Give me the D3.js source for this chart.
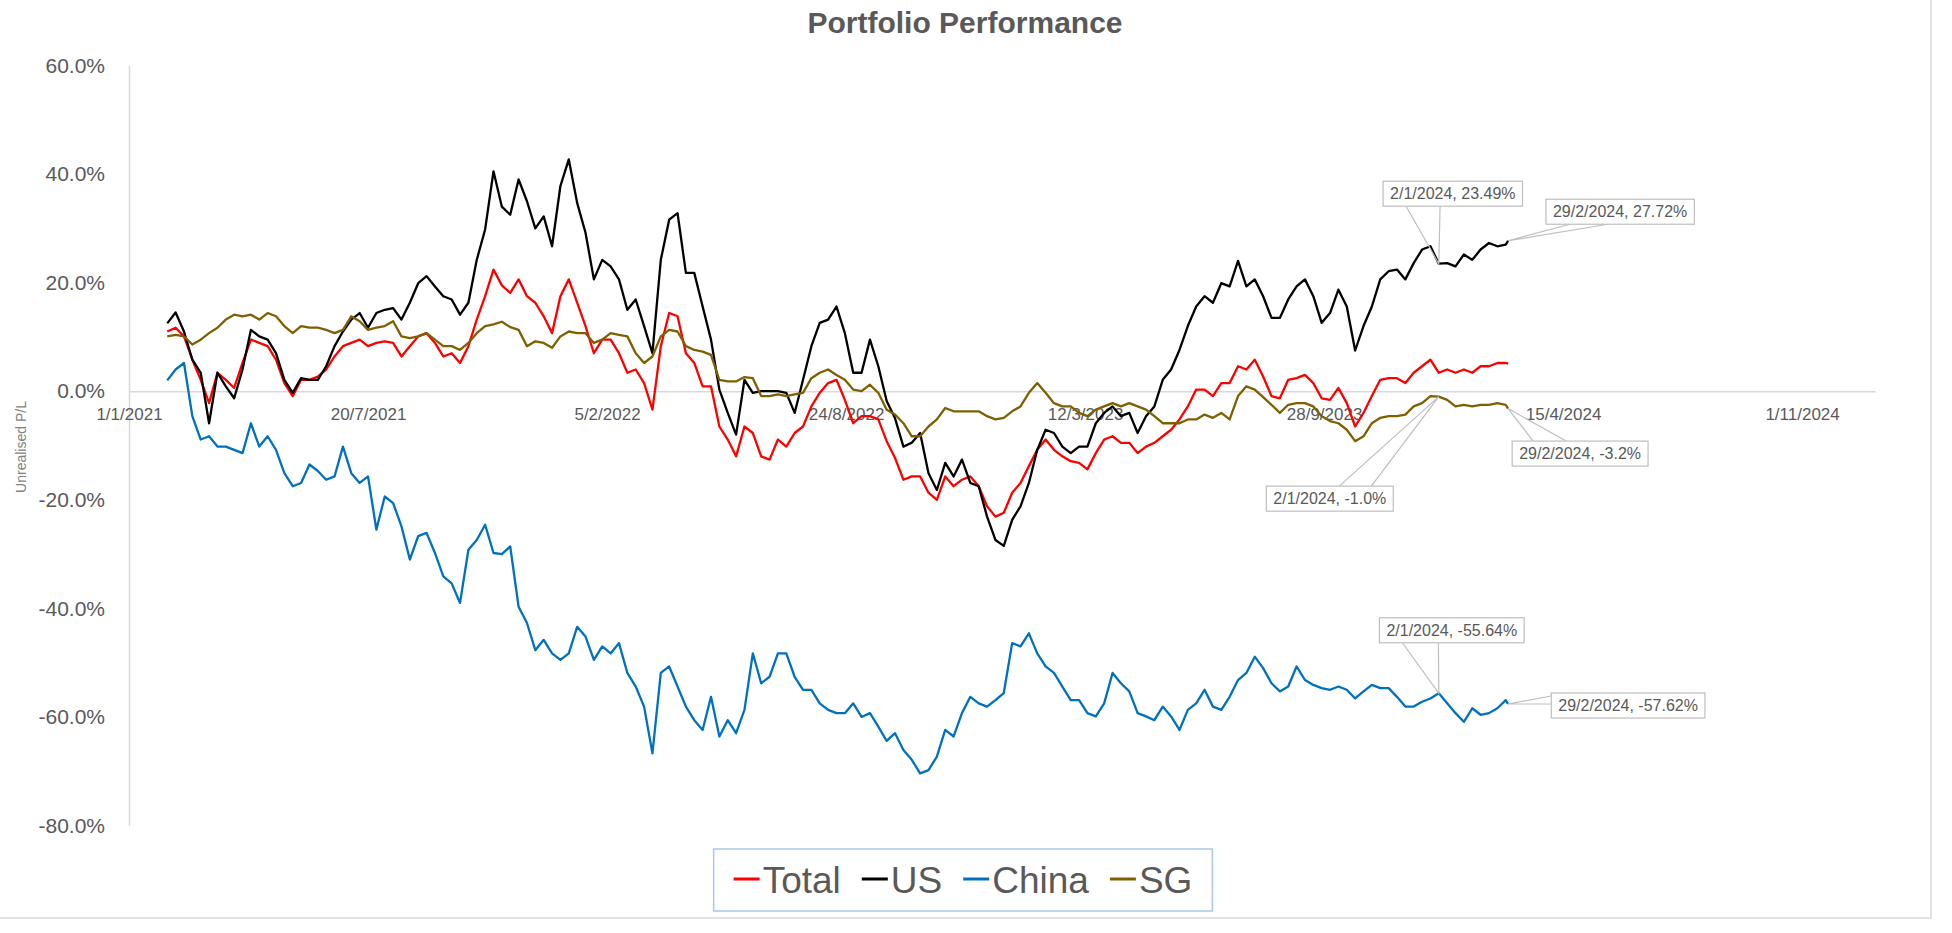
<!DOCTYPE html>
<html>
<head>
<meta charset="utf-8">
<script src="https://cdn.jsdelivr.net/npm/d3@7"></script>
<style>
  body { margin: 0; background: #fff; }
  svg { display: block; font-family: "Liberation Sans", Arial, sans-serif; }
</style>
</head>
<body>
<svg id="chart"></svg>
<script>
// weekly samples (tuesdays) from 2/2/2021, last point is 29/2/2024
const firstDate = new Date(2021, 1, 2);
const lastDate = new Date(2024, 1, 29);
const weeks = 161;

const seriesNames = ["Total", "US", "China", "SG"];

const totalValues = [
  11, 11.7, 10.1, 5.8, 2.1, -2.2, 3.4, 2.1, 0.6, 5.2,
  9.5, 8.9, 8.3, 5.8, 1.5, -0.9, 2.1, 2.1, 2.7, 4.0,
  6.4, 8.3, 8.9, 9.5, 8.3, 8.9, 9.2, 8.9, 6.4, 8.3,
  10.1, 10.7, 8.9, 6.4, 7.0, 5.2, 8.3, 13.2, 17.5, 22.4,
  19.5, 18.1, 20.6, 17.5, 16.3, 13.8, 10.7, 17.5, 20.6, 16.3,
  12.0, 7.0, 9.5, 9.5, 7.0, 3.4, 4.0, 1.5, -3.4, 8.3,
  14.4, 13.8, 7.0, 5.2, 0.9, 0.9, -6.5, -8.9, -12.0, -6.5,
  -7.7, -12, -12.6, -8.9, -10.2, -7.7, -6.5, -2.8, -0.3, 1.5,
  2.1, -1.6, -5.9, -4.6, -4.6, -5.2, -9.2, -12.3, -16.3, -15.7,
  -15.7, -18.7, -20, -15.7, -17.5, -16.3, -15.7, -17.5, -21.2, -23.1,
  -22.4, -18.7, -16.9, -13.8, -10.8, -8.9, -10.8, -12.0, -12.9, -13.2,
  -14.4, -11.4, -8.9, -8.3, -9.5, -9.5, -11.4, -10.2, -9.5, -8.3,
  -7.1, -5.2, -2.8, 0.3, 0.3, -0.9, 1.5, 1.5, 4.6, 4.0,
  5.8, 2.7, -0.9, -1.3, 2.1, 2.4, 3.0, 1.5, -1.3, -1.6,
  0.6, -2.2, -6.5, -4.0, -0.9, 2.1, 2.4, 2.4, 1.5, 3.4,
  4.6, 5.8, 3.4, 4.0, 3.4, 4.0, 3.4, 4.6, 4.6, 5.2,
  5.2, 5.1
];

const usValues = [
  12.5, 14.5, 11, 5.8, 3.4, -5.9, 3.4, 0.9, -1.3, 4.0,
  11.3, 10.1, 9.5, 7, 2.1, -0.3, 2.4, 2.1, 2.1, 4.6,
  8.3, 11, 13.2, 14.4, 11.7, 14.4, 15, 15.3, 13.2, 16.3,
  19.9, 21.2, 19.3, 17.5, 16.9, 14.1, 16.3, 24.2, 29.8, 40.5,
  34, 32.5, 39, 35, 30, 32.2, 26.7, 37.8, 42.7, 34.7,
  29.2, 20.6, 24.2, 23, 20.6, 15, 16.9, 12, 7, 24.2,
  31.6, 32.8, 21.8, 21.8, 15.6, 9.5, 0.3, -4.0, -8, 2.1,
  -0.3, 0, 0, 0, -0.3, -4, 2.1, 8.3, 12.6, 13.2,
  15.6, 10.7, 3.4, 3.4, 9.5, 4.6, -1.8, -5, -10.2, -9.5,
  -7.7, -15.1, -18.2, -13.2, -15.7, -12.6, -16.9, -17.5, -23.1, -27.4,
  -28.5, -23.7, -21.2, -16.9, -10.8, -7.1, -7.7, -10.2, -11.4, -10.2,
  -10.2, -5.9, -4.0, -2.8, -4.6, -4.0, -7.7, -4.6, -2.8, 2.1,
  4.0, 7.6, 12.0, 15.6, 17.5, 16.3, 19.9, 19.3, 24, 19.3,
  20.6, 17.5, 13.5, 13.5, 16.9, 19.3, 20.6, 17.5, 12.6, 14.4,
  18.7, 15.6, 7.5, 12.0, 15.6, 20.6, 22.1, 22.4, 20.6, 23.6,
  26.1, 26.7, 23.49, 23.6, 23.0, 25.2, 24.2, 26.1, 27.3, 26.7,
  27.0, 27.72
];

const chinaValues = [
  2.0, 4.0, 5.2, -4.6, -8.9, -8.3, -10.2, -10.2, -10.8, -11.4,
  -5.9, -10.2, -8.3, -10.8, -15.1, -17.5, -16.9, -13.5, -14.7, -16.3,
  -15.7, -10.2, -15.1, -16.9, -15.7, -25.5, -19.4, -20.6, -24.9, -31,
  -26.7, -26.1, -29.8, -34.1, -35.4, -39.0, -29.2, -27.4, -24.6, -29.8,
  -30, -28.6, -39.7, -42.7, -47.7, -45.8, -48.3, -49.5, -48.3, -43.4,
  -45.2, -49.5, -47.0, -48.3, -46.4, -51.9, -54.4, -58.1, -66.7, -51.9,
  -50.7, -54.4, -58.1, -60.6, -62.4, -56.3, -63.6, -60.6, -63.0, -58.7,
  -48.3, -53.8, -52.6, -48.3, -48.3, -52.6, -55.0, -55.0, -57.5, -58.7,
  -59.3, -59.3, -57.5, -60.0, -59.3, -61.8, -64.4, -63.0, -66.1, -67.9,
  -70.4, -69.8, -67.3, -62.4, -63.6, -59.3, -56.3, -57.5, -58.1, -56.9,
  -55.6, -46.4, -47.0, -44.6, -48.3, -50.7, -51.9, -54.4, -56.9, -56.9,
  -59.3, -59.9, -57.5, -51.9, -53.8, -55.3, -59.3, -59.9, -60.6, -58.1,
  -59.9, -62.4, -58.7, -57.5, -55.0, -58.1, -58.7, -56.3, -53.2, -51.9,
  -48.9, -51.0, -53.8, -55.3, -54.4, -50.7, -53.2, -54.1, -54.7, -55.0,
  -54.4, -55.0, -56.6, -55.3, -54.1, -54.7, -54.7, -56.3, -58.1, -58.1,
  -57.2, -56.6, -55.64, -57.5, -59.3, -60.9, -58.4, -59.6, -59.3, -58.4,
  -56.9, -57.62
];

const sgValues = [
  10.1, 10.4, 10.1, 8.6, 9.5, 10.7, 11.7, 13.2, 14.1, 13.8,
  14.1, 13.2, 14.4, 13.8, 12.0, 10.7, 12.0, 11.7, 11.7, 11.3,
  10.7, 11.3, 13.8, 12.9, 11.3, 11.7, 12.0, 12.9, 10.1, 9.8,
  10.1, 10.7, 9.5, 8.3, 8.3, 7.6, 8.9, 10.7, 12.0, 12.3,
  12.8, 11.8, 11.3, 8.3, 9.2, 8.9, 8.0, 10.1, 11.0, 10.7,
  10.7, 8.9, 9.5, 10.7, 10.4, 10.1, 7.0, 5.2, 6.4, 10.1,
  11.3, 11.0, 8.3, 7.6, 7.3, 6.7, 2.1, 1.8, 1.8, 2.6,
  2.4, -0.9, -0.9, -0.6, -0.9, -0.6, -0.3, 2.4, 3.4, 4.0,
  3.0, 2.1, 0.3, 0, 1.2, -0.3, -3.4, -4.3, -5.9, -8.3,
  -8.3, -6.5, -5.2, -3.1, -3.7, -3.7, -3.7, -3.7, -4.6, -5.2,
  -4.9, -3.7, -2.8, -0.3, 1.5, -0.3, -2.2, -2.8, -2.8, -4.0,
  -4.6, -3.4, -2.8, -2.2, -2.8, -2.2, -2.8, -3.4, -4.6, -5.9,
  -5.9, -5.9, -5.2, -5.2, -4.3, -4.9, -4.0, -5.2, -0.9, 0.9,
  0.3, -1.1, -2.5, -4.0, -2.5, -2.2, -2.2, -2.8, -4.6, -5.5,
  -5.9, -7.1, -9.2, -8.3, -5.9, -4.9, -4.6, -4.6, -4.3, -2.8,
  -2.2, -0.9, -1.0, -1.6, -2.8, -2.5, -2.8, -2.5, -2.5, -2.2,
  -2.5, -3.2
];

const yTicks = [60, 40, 20, 0, -20, -40, -60, -80];
const xTickLabels = ["1/1/2021", "20/7/2021", "5/2/2022", "24/8/2022", "12/3/2023", "28/9/2023", "15/4/2024", "1/11/2024"];

// callouts: series, point index, decimals shown
const calloutSeries = ["US", "US", "SG", "SG", "China", "China"];
const calloutIndex = [152, 161, 152, 161, 152, 161];
const calloutDecimals = [2, 2, 1, 1, 2, 2];

// ---- layout ----
const W = 1952, H = 933;
const colors = { Total: "#ff0000", US: "#000000", China: "#0070c0", SG: "#7f6000" };
const textColor = "#595959";
const axisColor = "#d9d9d9";

const parseLabel = d3.timeParse("%d/%m/%Y");
const fmtDate = d3.timeFormat("%-d/%-m/%Y");

const dates = d3.range(weeks).map((k) => d3.timeDay.offset(firstDate, 7 * k));
dates.push(lastDate);

const valuesByName = { Total: totalValues, US: usValues, China: chinaValues, SG: sgValues };
const series = seriesNames.map((name) => ({
    name: name,
    color: colors[name],
    points: dates.map((d, i) => ({ date: d, value: valuesByName[name][i] }))
}));

const svg = d3.select("#chart").attr("width", W).attr("height", H);
svg.append("rect").attr("width", W).attr("height", H).attr("fill", "#fff");

var x = d3.scaleTime()
    .domain([new Date(2021, 0, 1), new Date(2025, 0, 1)])
    .range([129, 1875]);
var y = d3.scaleLinear().domain([-80, 60]).range([825.5, 65.5]);

// chart area outline (right and bottom edges show in the picture)
svg.append("path")
    .attr("d", `M0,918H1931V0`)
    .attr("fill", "none")
    .attr("stroke", axisColor)
    .attr("stroke-width", 1.5);

// title
svg.append("text")
    .attr("x", 965)
    .attr("y", 33)
    .attr("text-anchor", "middle")
    .attr("font-size", 30)
    .attr("font-weight", "bold")
    .attr("fill", textColor)
    .text("Portfolio Performance");

// y axis
const yAxis = svg.append("g")
    .attr("transform", `translate(${x.range()[0]},0)`)
    .call(d3.axisLeft(y).tickValues(yTicks).tickSize(0).tickPadding(24)
        .tickFormat((d) => d.toFixed(1) + "%"));
yAxis.select(".domain").attr("stroke", axisColor).attr("stroke-width", 1.5);
yAxis.selectAll("text")
    .attr("font-size", 21)
    .attr("font-family", "Liberation Sans, Arial, sans-serif")
    .attr("fill", textColor);

// x axis sits on 0%
const xAxis = svg.append("g")
    .attr("transform", `translate(0,${y(0)})`)
    .call(d3.axisBottom(x).tickValues(xTickLabels.map(parseLabel)).tickSize(0).tickPadding(17)
        .tickFormat(fmtDate));
xAxis.select(".domain").attr("stroke", axisColor).attr("stroke-width", 1.5);
xAxis.selectAll("text")
    .attr("font-size", 17)
    .attr("font-family", "Liberation Sans, Arial, sans-serif")
    .attr("fill", textColor);

// axis title
svg.append("text")
    .attr("transform", "translate(26,447) rotate(-90)")
    .attr("text-anchor", "middle")
    .attr("font-size", 14)
    .attr("fill", "#7f7f7f")
    .text("Unrealised P/L");

// lines
const line = d3.line()
    .x((d) => x(d.date))
    .y((d) => y(d.value));

svg.append("g")
    .selectAll("path")
    .data(series)
    .join("path")
    .attr("d", (d) => line(d.points))
    .attr("fill", "none")
    .attr("stroke", (d) => d.color)
    .attr("stroke-width", 2.3)
    .attr("stroke-linejoin", "round");

// data callouts, box offset from the point and where the wedge meets the box
const calloutBox = [
    { dx: 14, dy: -70, edge: "bottom", b: [23, 57] },
    { dx: 112, dy: -29, edge: "bottom", b: [24, 62] },
    { dx: -109, dy: 102, edge: "top", b: [73, 105] },
    { dx: 72, dy: 45, edge: "top", b: [21, 54] },
    { dx: 13, dy: -63, edge: "bottom", b: [23, 59] },
    { dx: 120, dy: 1.5, edge: "left", b: [3, 11] }
];

const callouts = svg.append("g");
calloutSeries.forEach((name, i) => {
    const p = series.find((s) => s.name === name).points[calloutIndex[i]];
    const tx = x(p.date), ty = y(p.value);
    const lay = calloutBox[i];
    const g = callouts.append("g");
    const wedge = g.append("path");
    const rect = g.append("rect");
    const label = g.append("text")
        .attr("x", tx + lay.dx)
        .attr("y", ty + lay.dy)
        .attr("dy", "0.35em")
        .attr("text-anchor", "middle")
        .attr("font-size", 16)
        .attr("fill", textColor)
        .text(fmtDate(p.date) + ", " + p.value.toFixed(calloutDecimals[i]) + "%");
    const w = label.node().getComputedTextLength() + 14, h = 25;
    const left = tx + lay.dx - w / 2, top = ty + lay.dy - h / 2;
    rect.attr("x", left).attr("y", top).attr("width", w).attr("height", h)
        .attr("fill", "#fff").attr("stroke", "#bfbfbf").attr("stroke-width", 1.2);
    let b1, b2;
    if (lay.edge === "bottom") { b1 = [left + lay.b[0], top + h]; b2 = [left + lay.b[1], top + h]; }
    else if (lay.edge === "top") { b1 = [left + lay.b[0], top]; b2 = [left + lay.b[1], top]; }
    else { b1 = [left, top + lay.b[0]]; b2 = [left, top + lay.b[1]]; }
    wedge.attr("d", `M${b1}L${tx},${ty}L${b2}`)
        .attr("fill", "none").attr("stroke", "#bfbfbf").attr("stroke-width", 1.2);
});

// legend, laid out left to right then centred on the chart
const legend = svg.append("g");
let lx = 0;
const ly = 879;
series.forEach((s) => {
    legend.append("line")
        .attr("x1", lx).attr("x2", lx + 26)
        .attr("y1", ly).attr("y2", ly)
        .attr("stroke", s.color).attr("stroke-width", 3);
    const t = legend.append("text")
        .attr("x", lx + 29)
        .attr("y", ly + 14)
        .attr("font-size", 37)
        .attr("fill", textColor)
        .text(s.name);
    lx += 29 + t.node().getComputedTextLength() + 21;
});
const itemsW = lx - 21;
const boxW = itemsW + 40;
const boxX = 963 - boxW / 2;
legend.attr("transform", `translate(${boxX + 20},0)`);
legend.insert("rect", ":first-child")
    .attr("x", -20).attr("y", 849)
    .attr("width", boxW).attr("height", 62)
    .attr("fill", "#fff")
    .attr("stroke", "#a9c9e6")
    .attr("stroke-width", 1.5);
</script>
</body>
</html>
